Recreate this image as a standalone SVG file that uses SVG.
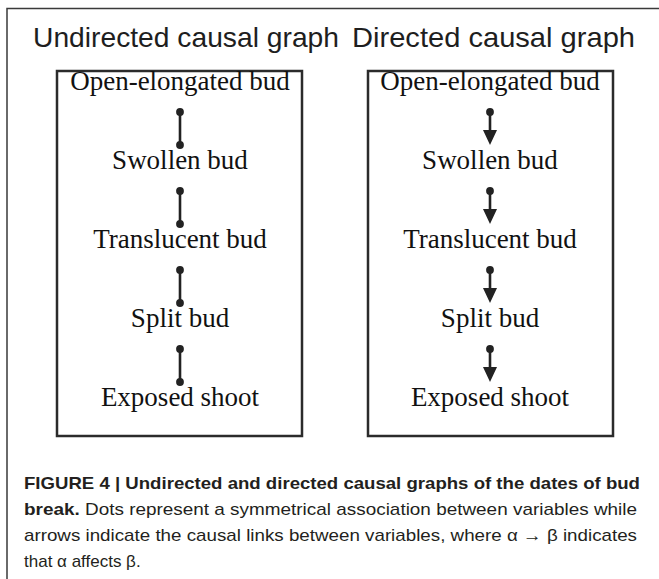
<svg xmlns="http://www.w3.org/2000/svg" xmlns:xlink="http://www.w3.org/1999/xlink" width="659" height="579" viewBox="0 0 659 579">
  <style>
    .frame { fill: none; stroke: #3a3a3a; stroke-width: 1.5; }
    .box { fill: none; stroke: #2b2b2b; stroke-width: 2.5; }
    .title { font-family: "Liberation Sans", Arial, sans-serif; font-size: 28px; fill: #1e1e1e; }
    .node { font-family: "Liberation Serif", "Times New Roman", serif; font-size: 27px; fill: #111; text-anchor: middle; }
    .edge { stroke: #222; stroke-width: 2.6; fill: none; }
    .cap { font-family: "Liberation Sans", Arial, sans-serif; font-size: 17px; fill: #231f20; }
    .b { font-weight: bold; }
  </style>
  <defs>
    <circle id="dot" r="3.9" fill="#222"/>
    <polygon id="head" points="-7,-15 7,-15 0,0" fill="#222"/>
  </defs>

  <rect width="659" height="579" fill="#ffffff"/>
  <!-- figure frame (right and bottom sides run off the page) -->
  <rect class="frame" x="7" y="8.5" width="700" height="700"/>

  <!-- panel titles -->
  <text class="title" x="33" y="47" textLength="306" lengthAdjust="spacingAndGlyphs">Undirected causal graph</text>
  <text class="title" x="352" y="47" textLength="283" lengthAdjust="spacingAndGlyphs">Directed causal graph</text>

  <!-- panel frames -->
  <rect class="box" x="57" y="71" width="245" height="365"/>
  <rect class="box" x="368" y="71" width="245" height="365"/>

  <!-- undirected graph nodes -->
  <g id="u-open"><text class="node" x="180" y="90">Open-elongated bud</text></g>
  <g id="u-swollen"><text class="node" x="180" y="169">Swollen bud</text></g>
  <g id="u-translucent"><text class="node" x="180" y="248">Translucent bud</text></g>
  <g id="u-split"><text class="node" x="180" y="327">Split bud</text></g>
  <g id="u-exposed"><text class="node" x="180" y="406">Exposed shoot</text></g>

  <!-- directed graph nodes -->
  <g id="d-open"><text class="node" x="490" y="90">Open-elongated bud</text></g>
  <g id="d-swollen"><text class="node" x="490" y="169">Swollen bud</text></g>
  <g id="d-translucent"><text class="node" x="490" y="248">Translucent bud</text></g>
  <g id="d-split"><text class="node" x="490" y="327">Split bud</text></g>
  <g id="d-exposed"><text class="node" x="490" y="406">Exposed shoot</text></g>

  <g id="connectors">
    <!-- undirected: dot at both ends -->
    <g id="u-edges">
      <line class="edge" x1="180" y1="112" x2="180" y2="145"/>
      <use xlink:href="#dot" x="180" y="112"/><use xlink:href="#dot" x="180" y="145"/>
      <line class="edge" x1="180" y1="191" x2="180" y2="224"/>
      <use xlink:href="#dot" x="180" y="191"/><use xlink:href="#dot" x="180" y="224"/>
      <line class="edge" x1="180" y1="270" x2="180" y2="303"/>
      <use xlink:href="#dot" x="180" y="270"/><use xlink:href="#dot" x="180" y="303"/>
      <line class="edge" x1="180" y1="349" x2="180" y2="382"/>
      <use xlink:href="#dot" x="180" y="349"/><use xlink:href="#dot" x="180" y="382"/>
    </g>
    <!-- directed: dot at the tail, arrowhead at the head -->
    <g id="d-edges">
      <line class="edge" x1="490" y1="112" x2="490" y2="132"/>
      <use xlink:href="#dot" x="490" y="112"/><use xlink:href="#head" x="490" y="145"/>
      <line class="edge" x1="490" y1="191" x2="490" y2="211"/>
      <use xlink:href="#dot" x="490" y="191"/><use xlink:href="#head" x="490" y="224"/>
      <line class="edge" x1="490" y1="270" x2="490" y2="290"/>
      <use xlink:href="#dot" x="490" y="270"/><use xlink:href="#head" x="490" y="303"/>
      <line class="edge" x1="490" y1="349" x2="490" y2="369"/>
      <use xlink:href="#dot" x="490" y="349"/><use xlink:href="#head" x="490" y="382"/>
    </g>
  </g>

  <!-- caption -->
  <text class="cap b" x="24" y="489" textLength="616" lengthAdjust="spacingAndGlyphs">FIGURE 4 | Undirected and directed causal graphs of the dates of bud</text>
  <text class="cap" x="24" y="515" textLength="613" lengthAdjust="spacingAndGlyphs"><tspan class="b">break.</tspan> Dots represent a symmetrical association between variables while</text>
  <text class="cap" x="24" y="541" textLength="613" lengthAdjust="spacingAndGlyphs">arrows indicate the causal links between variables, where α → β indicates</text>
  <text class="cap" x="24" y="567">that α affects β.</text>
</svg>
